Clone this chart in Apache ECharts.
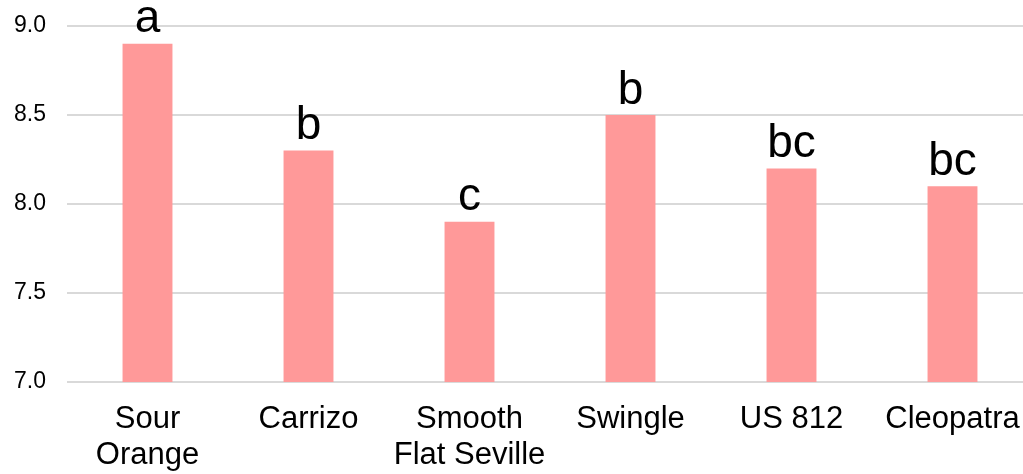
<!DOCTYPE html>
<html>
<head>
<meta charset="utf-8">
<script src="https://cdn.jsdelivr.net/npm/echarts@6/dist/echarts.min.js"></script>
<style>
  html, body { margin: 0; padding: 0; background: #fff; overflow: hidden; }
  #chart { width: 1033px; height: 474px; }
</style>
</head>
<body>
<div id="chart"></div>
<script>
// Rootstock names, mean values and significance letters
const categories = ['Sour\nOrange', 'Carrizo', 'Smooth\nFlat Seville', 'Swingle', 'US 812', 'Cleopatra'];
const values = [8.9, 8.3, 7.9, 8.5, 8.2, 8.1];
const letters = ['a', 'b', 'c', 'b', 'bc', 'bc'];

const chart = echarts.init(document.getElementById('chart'));
chart.setOption({
  animation: false,
  grid: { left: 67, right: 0, top: 26, bottom: 92, containLabel: false },
  xAxis: {
    type: 'category',
    data: categories,
    axisLine: { show: false },
    axisTick: { show: false },
    axisLabel: {
      color: '#000',
      fontFamily: 'Liberation Sans',
      fontSize: 31,
      lineHeight: 36,
      margin: 19,
      interval: 0
    }
  },
  yAxis: {
    type: 'value',
    min: 7.0,
    max: 9.0,
    interval: 0.5,
    axisLine: { show: false },
    axisTick: { show: false },
    splitLine: { lineStyle: { color: '#D9D9D9', width: 2 } },
    axisLabel: {
      color: '#000',
      fontFamily: 'Liberation Sans',
      fontSize: 23,
      margin: 21,
      formatter: v => v.toFixed(1)
    }
  },
  series: [{
    type: 'bar',
    data: values,
    barWidth: '31%',
    itemStyle: { color: '#FF9999' },
    label: {
      show: true,
      position: 'top',
      distance: 1,
      color: '#000',
      fontFamily: 'Liberation Sans',
      fontSize: 46,
      formatter: p => letters[p.dataIndex]
    }
  }]
});
</script>
</body>
</html>
